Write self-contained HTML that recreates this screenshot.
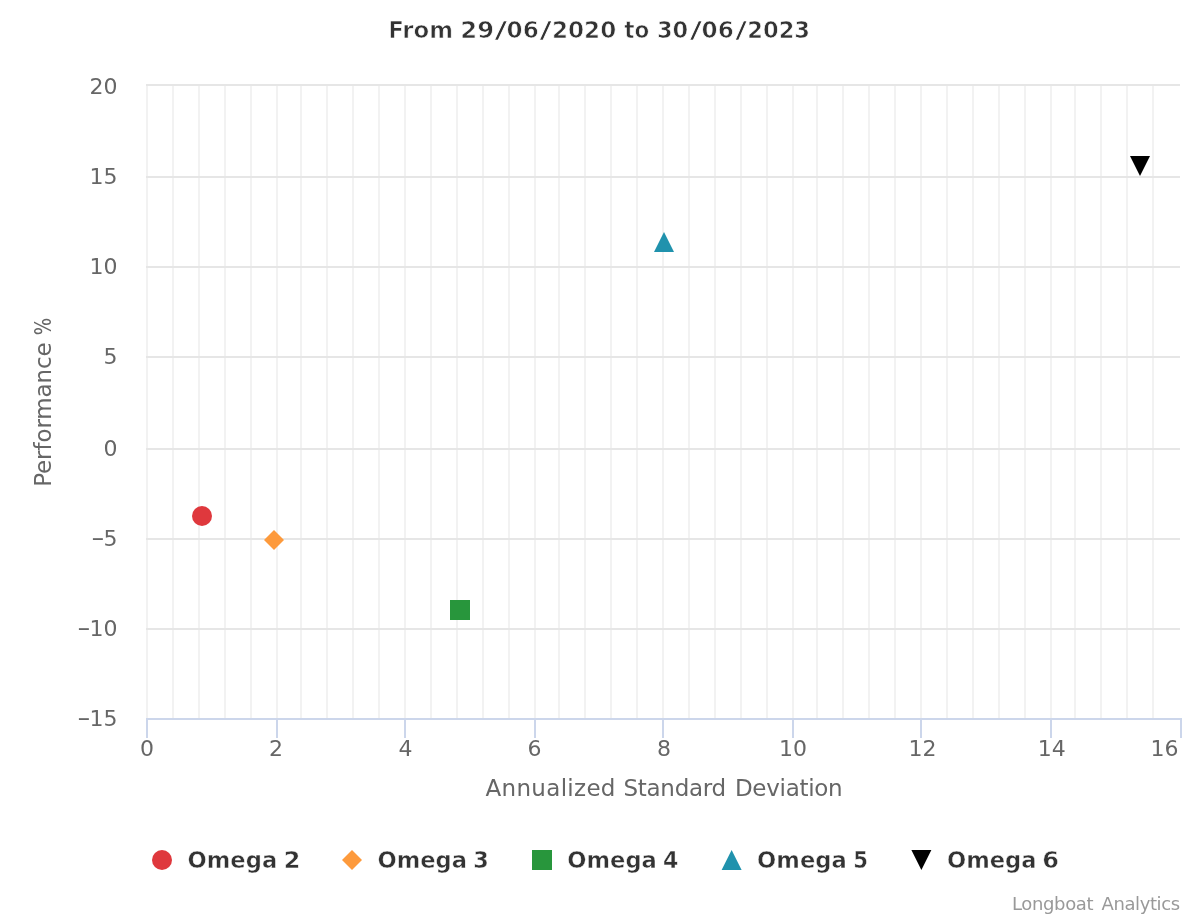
<!DOCTYPE html>
<html lang="en"><head><meta charset="utf-8"><title>From 29/06/2020 to 30/06/2023</title>
<style>html,body{margin:0;padding:0;background:#fff;}svg{display:block;}text{font-family:"DejaVu Sans", "Liberation Sans", sans-serif;white-space:pre;}</style>
</head><body>
<svg width="1200" height="920" viewBox="0 0 1200 920">
<rect x="0" y="0" width="1200" height="920" fill="#ffffff"/>
<g stroke="#f2f2f2" stroke-width="2" fill="none">
<path d="M147 84 V718"/>
<path d="M173 84 V718"/>
<path d="M199 84 V718"/>
<path d="M225 84 V718"/>
<path d="M251 84 V718"/>
<path d="M277 84 V718"/>
<path d="M301 84 V718"/>
<path d="M327 84 V718"/>
<path d="M353 84 V718"/>
<path d="M379 84 V718"/>
<path d="M405 84 V718"/>
<path d="M431 84 V718"/>
<path d="M457 84 V718"/>
<path d="M483 84 V718"/>
<path d="M509 84 V718"/>
<path d="M535 84 V718"/>
<path d="M559 84 V718"/>
<path d="M585 84 V718"/>
<path d="M611 84 V718"/>
<path d="M637 84 V718"/>
<path d="M663 84 V718"/>
<path d="M689 84 V718"/>
<path d="M715 84 V718"/>
<path d="M741 84 V718"/>
<path d="M767 84 V718"/>
<path d="M793 84 V718"/>
<path d="M817 84 V718"/>
<path d="M843 84 V718"/>
<path d="M869 84 V718"/>
<path d="M895 84 V718"/>
<path d="M921 84 V718"/>
<path d="M947 84 V718"/>
<path d="M973 84 V718"/>
<path d="M999 84 V718"/>
<path d="M1025 84 V718"/>
<path d="M1051 84 V718"/>
<path d="M1075 84 V718"/>
<path d="M1101 84 V718"/>
<path d="M1127 84 V718"/>
<path d="M1153 84 V718"/>
</g>
<g stroke="#e6e6e6" stroke-width="2" fill="none">
<path d="M146 719 H1180"/>
<path d="M146 629 H1180"/>
<path d="M146 539 H1180"/>
<path d="M146 449 H1180"/>
<path d="M146 357 H1180"/>
<path d="M146 267 H1180"/>
<path d="M146 177 H1180"/>
<path d="M146 85 H1180"/>
</g>
<g stroke="#ccd6eb" stroke-width="2" fill="none">
<path d="M146 719 H1182"/>
<path d="M147 718 V738"/>
<path d="M277 718 V738"/>
<path d="M405 718 V738"/>
<path d="M535 718 V738"/>
<path d="M663 718 V738"/>
<path d="M793 718 V738"/>
<path d="M921 718 V738"/>
<path d="M1051 718 V738"/>
<path d="M1181 718 V738"/>
</g>
<g font-size="22" fill="#666666">
<text x="89.5" y="94">20</text>
<text x="89.5" y="184">15</text>
<text x="89.5" y="274">10</text>
<text x="103.5" y="364">5</text>
<text x="103.5" y="456">0</text>
<text y="546"><tspan x="91.2" textLength="13.3" lengthAdjust="spacingAndGlyphs">−</tspan><tspan x="103.5">5</tspan></text>
<text y="636"><tspan x="77.2" textLength="13.3" lengthAdjust="spacingAndGlyphs">−</tspan><tspan x="89.5">10</tspan></text>
<text y="726"><tspan x="77.2" textLength="13.3" lengthAdjust="spacingAndGlyphs">−</tspan><tspan x="89.5">15</tspan></text>
</g>
<g font-size="22" fill="#666666" text-anchor="middle">
<text x="146.9" y="756">0</text>
<text x="276.1" y="756">2</text>
<text x="405.4" y="756">4</text>
<text x="534.6" y="756">6</text>
<text x="663.9" y="756">8</text>
<text x="793.1" y="756">10</text>
<text x="922.4" y="756">12</text>
<text x="1051.7" y="756">14</text>
<text x="1178.5" y="756" text-anchor="end">16</text>
</g>
<text y="37.9" font-size="23" font-weight="bold" fill="#333333" stroke="#ffffff" stroke-width="0.7"><tspan x="388.17" textLength="64.97" lengthAdjust="spacingAndGlyphs">From</tspan> <tspan x="460.38" textLength="33.88" lengthAdjust="spacingAndGlyphs">29</tspan><tspan x="494.58" textLength="12.76" lengthAdjust="spacingAndGlyphs">/</tspan><tspan x="506.53" textLength="32.23" lengthAdjust="spacingAndGlyphs">06</tspan><tspan x="539.62" textLength="12.31" lengthAdjust="spacingAndGlyphs">/</tspan><tspan x="551.99" textLength="64.27" lengthAdjust="spacingAndGlyphs">2020</tspan> <tspan x="624.32" textLength="25.02" lengthAdjust="spacingAndGlyphs">to</tspan> <tspan x="656.90" textLength="31.27" lengthAdjust="spacingAndGlyphs">30</tspan><tspan x="689.82" textLength="12.31" lengthAdjust="spacingAndGlyphs">/</tspan><tspan x="701.53" textLength="32.23" lengthAdjust="spacingAndGlyphs">06</tspan><tspan x="735.37" textLength="11.75" lengthAdjust="spacingAndGlyphs">/</tspan><tspan x="747.24" textLength="62.84" lengthAdjust="spacingAndGlyphs">2023</tspan></text>
<text y="796" font-size="23" fill="#666666"><tspan x="485.59" letter-spacing="0.30">Annualized</tspan> <tspan x="623.54" letter-spacing="-0.29">Standard</tspan> <tspan x="734.95" letter-spacing="-0.29">Deviation</tspan></text>
<text transform="translate(51.3,484.8) rotate(-90)" y="0" font-size="23" fill="#666666"><tspan x="-2.05" letter-spacing="-0.12">Performance</tspan> <tspan x="149.59" textLength="17.49" lengthAdjust="spacingAndGlyphs">%</tspan></text>
<circle cx="202" cy="516" r="10" fill="#df383d"/>
<path d="M274 530 L284 540 L274 550 L264 540 Z" fill="#fd9a3c"/>
<rect x="450" y="600" width="20" height="20" fill="#28963c"/>
<path d="M664 232 L674 252 L654 252 Z" fill="#2092ad"/>
<path d="M1130 156 L1150 156 L1140 176 Z" fill="#000000"/>
<circle cx="162" cy="860" r="10" fill="#df383d"/>
<path d="M352 850 L362 860 L352 870 L342 860 Z" fill="#fd9a3c"/>
<rect x="532" y="850" width="20" height="20" fill="#28963c"/>
<path d="M731.6 850 L741.6 870 L721.6 870 Z" fill="#2092ad"/>
<path d="M911.4 850 L931.4 850 L921.4 870 Z" fill="#000000"/>
<g font-size="23" font-weight="bold" fill="#333333" stroke="#ffffff" stroke-width="0.45">
<text y="867.6"><tspan x="187.56" textLength="89.61" lengthAdjust="spacingAndGlyphs">Omega</tspan> <tspan x="283.73" textLength="16.62" lengthAdjust="spacingAndGlyphs">2</tspan></text>
<text y="867.6"><tspan x="377.41" textLength="89.61" lengthAdjust="spacingAndGlyphs">Omega</tspan> <tspan x="473.21" textLength="15.54" lengthAdjust="spacingAndGlyphs">3</tspan></text>
<text y="867.6"><tspan x="567.26" textLength="89.61" lengthAdjust="spacingAndGlyphs">Omega</tspan> <tspan x="662.96" textLength="15.34" lengthAdjust="spacingAndGlyphs">4</tspan></text>
<text y="867.6"><tspan x="757.11" textLength="89.61" lengthAdjust="spacingAndGlyphs">Omega</tspan> <tspan x="853.25" textLength="14.80" lengthAdjust="spacingAndGlyphs">5</tspan></text>
<text y="867.6"><tspan x="946.96" textLength="89.61" lengthAdjust="spacingAndGlyphs">Omega</tspan> <tspan x="1042.30" textLength="16.72" lengthAdjust="spacingAndGlyphs">6</tspan></text>
</g>
<text y="909.7" font-size="18" fill="#999999"><tspan x="1012.01" letter-spacing="-0.36">Longboat</tspan> <tspan x="1101.54" letter-spacing="-0.40">Analytics</tspan></text>
</svg></body></html>
